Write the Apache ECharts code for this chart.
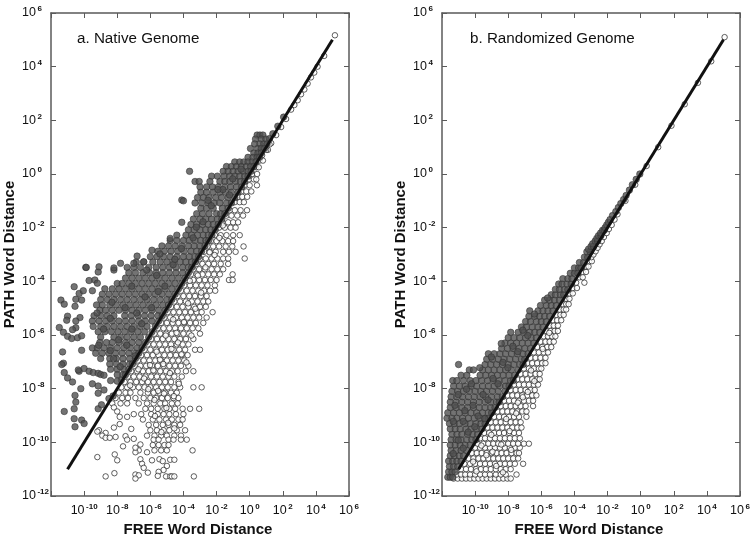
<!DOCTYPE html>
<html><head><meta charset="utf-8"><style>html,body{margin:0;padding:0;background:#fff}#c{width:750px;height:536px}</style>
<script src="https://cdn.jsdelivr.net/npm/echarts@6/dist/echarts.min.js"></script></head>
<body><div id="c"></div>
<script>
// All values are base-10 exponents. Rows are [PATH exponent, FREE exponents...]; pairs are [FREE, PATH].
const panelTitles=['a. Native Genome','b. Randomized Genome'];
const xAxisTitle='FREE Word Distance', yAxisTitle='PATH Word Distance';
const diagonalEnds=[-11,5];
const nativeDarkRows=[
[1.45,.45,.62,.8],[1.3,.35,.7,.98],[1.12,.3,.62,.85,1.05],[.95,.05,.48,.7,.9],[.78,.25,.5,.7],[.62,-.1,.2,.45,.6],
[.45,-.9,-.6,-.35,-.1,.15,.38],[.28,-1.4,-1.1,-.8,-.5,-.2,.05,.25],[.1,-3.63,-1.6,-1.3,-1,-.7,-.4,-.1,.08],
[-.08,-2.3,-1.95,-1.55,-1.2,-.9,-.6,-.3,-.1],[-.28,-3.3,-3.05,-2.4,-1.8,-1.5,-1.2,-.85,-.55,-.3],
[-.48,-3,-2.6,-2.25,-1.9,-1.5,-1.15,-.8,-.48],[-.68,-2.95,-2.6,-2.2,-1.8,-1.45,-1.1,-.7],[-.88,-3.15,-2.8,-2.45,-2.05,-1.7,-1.3,-.9],
[-1.08,-3.3,-2.9,-2.5,-2.15,-1.8,-1.4,-1.1],[-1.28,-2.95,-2.6,-2.2,-1.65,-1.3],[-1.48,-3.2,-2.85,-2.45,-2,-1.75,-1.5],
[-1.68,-3.4,-3,-2.65,-2.3,-1.95,-1.68],[-1.88,-3.55,-3.2,-2.85,-2.5,-2.2,-1.9],[-2.08,-3.7,-3.35,-3,-2.65,-2.35,-2.08],
[-2.28,-4.4,-3.85,-3.5,-3.15,-2.8,-2.5,-2.28],[-2.48,-4.8,-4.4,-4,-3.65,-3.3,-2.95,-2.65,-2.48],
[-2.68,-5.3,-4.9,-4.5,-4.1,-3.7,-3.35,-3,-2.7],[-2.88,-5.55,-5.15,-4.75,-4.35,-3.95,-3.55,-3.2,-2.9],
[-3.08,-6,-5.6,-5.2,-4.8,-4.4,-4,-3.65,-3.3,-3.08],[-3.28,-6.85,-6.4,-5.85,-5.4,-5,-4.6,-4.2,-3.85,-3.5,-3.28],
[-3.48,-7.4,-7,-6.6,-6.1,-5.65,-5.25,-4.85,-4.45,-4.05,-3.7,-3.5],[-3.68,-7.3,-6.9,-6.45,-6.05,-5.65,-5.25,-4.85,-4.45,-4.05,-3.7],
[-3.88,-7.5,-7.1,-6.7,-6.3,-5.9,-5.5,-5.1,-4.7,-4.3,-3.9],[-4.08,-8,-7.7,-7.3,-6.9,-6.5,-6.1,-5.7,-5.3,-4.9,-4.5,-4.1],
[-4.28,-8.75,-8.3,-7.9,-7.5,-7.1,-6.7,-6.3,-5.9,-5.5,-5.1,-4.7,-4.3],[-4.48,-8.9,-8.5,-8.1,-7.7,-7.3,-6.9,-6.5,-6.1,-5.7,-5.3,-4.9,-4.5],
[-4.68,-9,-8.6,-8.2,-7.8,-7.4,-7,-6.6,-6.2,-5.8,-5.4,-5,-4.7],[-4.88,-9.25,-8.9,-8.45,-8.05,-7.65,-7.25,-6.85,-6.45,-6.05,-5.65,-5.25,-4.9],
[-5.08,-9.05,-8.7,-8.3,-7.9,-7.5,-7.1,-6.7,-6.3,-5.9,-5.5,-5.1],[-5.28,-9.4,-9,-8.6,-8.2,-7.55,-7.15,-6.75,-6.35,-5.95,-5.55,-5.28],
[-5.48,-9.5,-9.1,-8.7,-8.3,-7.9,-7.5,-7.1,-6.7,-6.3,-5.9,-5.5],[-5.68,-9.45,-9,-8.6,-8.2,-7.8,-7.4,-7,-6.6,-6.2,-5.7],
[-5.88,-9.15,-8.75,-8.35,-7.95,-7.55,-7.15,-6.75,-6.35,-5.9],[-6.08,-9,-8.2,-7.8,-7.4,-7,-6.6,-6.1],
[-6.28,-9.05,-8.65,-8.3,-7.9,-7.5,-7.1,-6.7,-6.3],[-6.48,-9.5,-9.2,-8.8,-8.4,-8,-7.6,-7.2,-6.8,-6.5],
[-6.68,-9.3,-8.9,-8.5,-8.1,-7.7,-7.3,-6.9,-6.7],[-6.88,-9,-8.45,-8.05,-7.65,-7.25,-6.9],[-7.08,-8.45,-8.05,-7.65,-7.25,-7.08],
[-7.28,-8.4,-8,-7.6,-7.3],[-7.48,-8,-7.65,-7.5],[-7.68,-7.75]];
const nativeDarkPairs=[[-10.6,-4.2],[-11.4,-4.7],[-11.2,-4.85],[-10.5,-4.67],[-10.15,-4.7],[-10.55,-4.93],[-10.3,-4.45],[-10.05,-4.35],[-9.5,-4.35],[-9.7,-3.97],[-9.35,-3.95],[-9.2,-4.07],[-9.15,-3.65],[-9.9,-3.48],[-8.2,-3.58],[-11,-5.3],[-11.05,-5.45],[-11.5,-5.72],[-11.25,-5.9],[-11,-6.05],[-10.75,-6.13],[-10.4,-6.1],[-10.15,-6.03],[-10.5,-5.73],[-10.25,-5.35],[-10.5,-5.48],[-10.7,-5.8],[-11.3,-6.63],[-11.25,-7.05],[-11.35,-7.1],[-11.2,-7.4],[-11,-7.6],[-10.7,-7.75],[-10.55,-8.25],[-10.2,-8],[-10.5,-8.5],[-10.6,-8.75],[-11.2,-8.85],[-10.6,-9.12],[-10.55,-9.42],[-10.15,-9.17],[-10,-9.3],[-9.5,-7.82],[-9.15,-7.9],[-9.15,-8.17],[-8.8,-8.05],[-9.15,-8.75],[-8.95,-8.6],[-8.5,-8.37],[-8.25,-8.27],[-10.15,-6.57],[-10.3,-7.35],[-10.35,-7.3],[-10,-7.25],[-9.7,-7.35],[-9.45,-7.4],[-9.15,-7.43],[-9,-7.47],[-8.8,-7.5],[-8.4,-7.7],[-8,-7.72],[-4.1,-.97],[-4,-1],[-4.1,-1.8],[1.2,1.32],[1.4,1.5],[1.7,1.78],[2.05,2.12],
[-5.9,-2.84],[-6.8,-3.06],[-7.8,-3.33],[-9.87,-3.48],[-8.2,-3.5],[-9.1,-3.46],[-7,-3.33],[-6.4,-3.27],[-4.8,-2.4],
[-5.12,-4.18],[-6.32,-4.58],[-7.52,-4.98],[-8.42,-5.38],[-6.82,-5.18],[-5.62,-3.78],[-4.62,-3.38],[-4.12,-2.78],[-3.42,-2.38],[-2.82,-1.78],[-2.32,-1.18],[-1.62,-.58],[-1.02,-.18],[-.52,.18],[-7.12,-5.78],[-7.92,-6.18],[-8.42,-6.58],[-7.42,-6.38],[-6.52,-5.58],[-5.92,-4.98],[-5.52,-4.38],[-4.52,-3.18],[-3.22,-1.98],[-2.52,-.98],[-1.92,-.58],[-1.22,-.78],[-8.82,-5.78],[-9.22,-5.18],[-8.32,-4.78],[-7.12,-4.18],[-6.22,-3.58],[-5.42,-2.98],[-6.92,-6.78],[-7.82,-7.18],[-8.22,-6.88],[-9.12,-6.38]];
const nativeHollowRows=[
[.5,.6,.8],[.25,.4,.55],[0,.15,.45],[-.2,-.05,.25,.4],[-.42,-.3,0,.44],[-.65,-.5,-.2,.1],[-.85,-.7,-.45,-.15],[-1.05,-.9,-.6,-.35],
[-1.35,-1.2,-.9,-.55,-.16],[-1.55,-1.4,-1.1,-.75,-.4],[-1.8,-1.65,-1.3,-1,-.7],[-2,-1.85,-1.5,-1.15,-.85],[-2.28,-2.1,-1.75,-1.4,-1,-.6],
[-2.5,-2.35,-2,-1.65,-1.3,-1],[-2.7,-2.55,-2.2,-1.85,-1.45,-1.05,-.37],[-2.9,-2.75,-2.4,-2.05,-1.6,-1.25,-.85],[-3.15,-3,-2.65,-2.3,-1.95,-1.6,-1.3,-.3],
[-3.35,-3.2,-2.85,-2.5,-2.15,-1.75,-1.3],[-3.55,-3.4,-3.05,-2.7,-2.3,-1.95,-1.6],[-3.74,-3.55,-3.2,-2.85,-2.5,-2.15,-1.8,-1.03],
[-3.95,-3.75,-3.4,-3.05,-2.7,-2.35,-2,-1.25,-1.03],[-4.15,-3.95,-3.6,-3.25,-2.9,-2.55,-2.1],[-4.35,-4.15,-3.8,-3.45,-3.1,-2.75,-2.4,-2.08],
[-4.55,-4.35,-4,-3.65,-3.3,-2.95,-2.6],[-4.75,-4.55,-4.2,-3.85,-3.5,-3.15,-2.8,-2.5],[-4.95,-4.75,-4.4,-4.05,-3.7,-3.35,-3,-2.65],
[-5.15,-4.95,-4.6,-4.25,-3.9,-3.55,-3.2,-2.9,-2.24],[-5.35,-5.15,-4.8,-4.45,-4.1,-3.75,-3.4,-3.05,-2.6],[-5.55,-5.35,-5,-4.65,-4.3,-3.95,-3.6,-3.25,-2.8],
[-5.75,-5.55,-5.2,-4.85,-4.5,-4.15,-3.8,-3.45,-3.1],[-5.95,-5.75,-5.4,-5.05,-4.7,-4.35,-4,-3.65,-3],[-6.15,-5.95,-5.6,-5.25,-4.9,-4.55,-4.2,-3.85,-3.4],
[-6.35,-6.15,-5.8,-5.45,-5.1,-4.75,-4.4,-4.05,-3.7],[-6.55,-6.35,-6,-5.65,-5.3,-4.95,-4.6,-4.25,-3.9,-3.3,-3],[-6.75,-6.55,-6.2,-5.85,-5.5,-5.15,-4.8,-4.45,-4.1,-3.75],
[-6.95,-6.75,-6.4,-6.05,-5.7,-5.35,-5,-4.65,-4.3,-3.95],[-7.15,-6.95,-6.6,-6.25,-5.9,-5.55,-5.2,-4.85,-4.5,-4.15,-3.7],
[-7.35,-7.15,-6.8,-6.45,-6.1,-5.75,-5.4,-5.05,-4.7,-4.35,-3.85,-3.4],[-7.55,-7.35,-7,-6.65,-6.3,-5.95,-5.6,-5.25,-4.9,-4.55,-4.1],
[-7.75,-7.55,-7.2,-6.85,-6.5,-6.15,-5.8,-5.45,-5.1,-4.75,-4.3],[-7.95,-7.75,-7.4,-7.05,-6.7,-6.35,-6,-5.65,-5.3,-4.95,-4.55,-4.2,-3.4,-2.9],
[-8.15,-7.9,-7.5,-7.2,-6.6,-6.15,-5.8,-5.45,-5.1,-4.75,-4.4],[-8.35,-8.1,-7.7,-7.35,-6.9,-6.4,-6,-5.65,-5.3,-4.95,-4.6,-4.3],
[-8.55,-8.3,-7.8,-7.4,-6.7,-6.2,-5.8,-5.4,-5.1,-4.7,-4.35],[-8.75,-6.3,-5.95,-5.55,-5.15,-4.85,-4.5,-4.05,-3.6,-3.05],
[-8.95,-7,-6.55,-5.95,-5.55,-5.2,-4.85,-4.45,-4],[-9.15,-6.45,-5.85,-5.45,-5.05,-4.7,-4.3,-4.05],[-9.35,-6.1,-5.65,-5.25,-4.9,-4.55,-4.2],
[-9.55,-6,-5.6,-5.2,-4.85,-4.4,-3.9],[-9.75,-6.2,-5.75,-5.35,-5,-4.55,-4.15],[-9.9,-5.8,-5.5,-4.9,-4.6,-4.15,-3.8],[-10.1,-5.85,-5.5,-5.15,-4.9],[-10.3,-5.75,-5.35,-5]];
const nativeHollowPairs=[[-8.2,-8.7],[-8,-8.85],[-7.85,-9.05],[-7.4,-9.05],[-8.2,-9.45],[-7.85,-9.32],[-7.15,-9.5],[-9.1,-9.55],[-9.2,-9.6],[-8.7,-9.65],[-8.9,-9.75],[-8.7,-9.83],[-8.45,-9.83],[-8.1,-9.8],[-7.5,-9.77],[-7.4,-9.9],[-7,-9.87],[-7.65,-10.15],[-6.6,-10.08],[-6.7,-10.3],[-6.9,-10.37],[-6.9,-10.2],[-6.2,-10.37],[-9.2,-10.55],[-8.15,-10.45],[-8,-10.67],[-6.6,-10.63],[-6.5,-10.8],[-6.4,-10.95],[-6.15,-11.13],[-5.9,-10.67],[-5.45,-10.63],[-5.25,-10.7],[-4.8,-10.65],[-4.55,-10.65],[-5,-10.88],[-5.2,-11.03],[-5.5,-11.1],[-5.55,-11.25],[-5.05,-11.27],[-4.8,-11.27],[-4.7,-11.27],[-4.55,-11.27],[-3.37,-11.27],[-6.9,-11.2],[-6.7,-11.23],[-6.9,-11.35],[-8.17,-11.15],[-8.7,-11.27],[-3.45,-10.3],
[1.3,1.15],[1.6,1.45],[1.9,1.75],[2.2,2.05],[2.5,2.4],[2.9,2.75],[3.3,3.15],[3.7,3.6],[4.1,4],[4.5,4.4],[5.15,5.17],[1.2,1.1],[1.1,.9],[1,.9],[.75,.7],[2.7,2.57],[3.1,2.97],[3.5,3.37],[3.9,3.78],
[-5.07,-6.02],[-4.62,-5.42],[-3.72,-4.82],[-3.13,-3.78],[-2.42,-2.92],[-1.83,-2.38],[-5.62,-6.62],[-4.33,-6.28],[-5.22,-7.08],[-6.38,-7.62],[-4.82,-7.42],[-5.53,-8.08],[-4.28,-7.82],[-5.03,-8.72],[-5.72,-9.02],[-4.58,-8.28],[-4.92,-9.27],[-5.33,-9.62],[-3.97,-5.52],[-3.28,-5.02],[-2.93,-4.42],[-4.12,-6.72],[-6.12,-8.02],[-6.72,-7.28],[-7.22,-7.88],[-5.82,-7.32],[-4.42,-5.92],[-3.52,-6.02],[-3.62,-3.98],[-2.67,-3.48],[-2.12,-3.02],[-1.62,-1.92],[-5.42,-6.92],[-6.02,-7.12],[-4.72,-6.52],[-3.82,-7.02],[-4.55,-9.48],[-5.18,-8.18],[-5.75,-8.42]];
const randomDarkRows=[
[-11.3,-11.65,-11.5,-11.35],[-11.1,-11.6,-11.4,-11.2],[-10.9,-11.55,-11.3,-11.05],[-10.7,-11.6,-11.35,-11.1,-10.85],[-10.5,-11.5,-11.25,-10.95,-10.7],
[-10.3,-11.45,-11.15,-10.85,-10.5],[-10.1,-11.5,-11.2,-10.9,-10.6,-10.3],[-9.9,-11.45,-11.15,-10.85,-10.5,-10.2,-9.95],[-9.7,-11.4,-11.1,-10.8,-10.45,-10.15,-9.85],
[-9.5,-11.5,-11.2,-10.9,-10.55,-10.25,-9.9,-9.6],[-9.3,-11.55,-11.25,-10.95,-10.6,-10.3,-9.95,-9.65,-9.4],[-9.1,-11.7,-11.4,-11.1,-10.75,-10.4,-10.05,-9.7,-9.4,-9.2],
[-8.9,-11.65,-11.3,-10.95,-10.6,-10.25,-9.9,-9.55,-9.2,-9],[-8.7,-11.5,-11.15,-10.8,-10.45,-10.1,-9.75,-9.4,-9.05,-8.8],[-8.5,-11.5,-11.15,-10.8,-10.45,-10.1,-9.75,-9.4,-9.05,-8.7,-8.55],
[-8.3,-11.45,-11.1,-10.75,-10.4,-10.05,-9.7,-9.35,-9,-8.65,-8.35],[-8.1,-11.4,-11.05,-10.7,-10.35,-10,-9.65,-9.3,-8.95,-8.6,-8.2],[-7.9,-11.3,-10.95,-10.6,-10.25,-9.9,-9.55,-9.2,-8.85,-8.5,-8.15,-7.95],
[-7.7,-11.35,-11.1,-10.7,-10.3,-9.95,-9.6,-9.25,-8.9,-8.55,-8.2,-7.85,-7.7],[-7.5,-10.85,-10.5,-9.7,-9.35,-9,-8.65,-8.3,-7.95,-7.6],[-7.3,-10.35,-10.1,-9.55,-9.2,-8.85,-8.5,-8.15,-7.8,-7.4],
[-7.1,-11,-9.4,-9.05,-8.7,-8.35,-8,-7.65,-7.3,-7.1],[-6.9,-9.3,-8.95,-8.6,-8.25,-7.9,-7.55,-7.2,-7],[-6.7,-9.2,-8.85,-8.5,-8.15,-7.8,-7.45,-7.1,-6.8],
[-6.5,-8.4,-8.05,-7.7,-7.35,-7,-6.65],[-6.3,-8.2,-7.85,-7.5,-7.15,-6.8,-6.45],[-6.1,-8,-7.65,-7.3,-6.95,-6.6,-6.3],[-5.9,-7.85,-7.4,-7.05,-6.7,-6.4,-6.1],
[-5.7,-7.2,-6.9,-6.55,-6.2,-5.9],[-5.5,-6.95,-6.65,-6.3,-6,-5.7],[-5.3,-6.75,-6.4,-6.1,-5.8,-5.5],[-5.1,-6.7,-6.2,-5.9,-5.6,-5.3],[-4.9,-6.05,-5.7,-5.4,-5.1],[-4.7,-5.8,-5.5,-5.2,-4.9],
[-4.5,-5.4,-5.15,-4.85,-4.65],[-4.3,-5.15,-4.9,-4.6,-4.4],[-4.1,-4.95,-4.75,-4.45,-4.2],[-3.9,-4.7,-4.4,-4.15],[-3.7,-4.25,-4,-3.8],[-3.5,-4,-3.75,-3.6],[-3.3,-3.7,-3.45],[-3.1,-3.4,-3.2],
[-2.9,-3.25,-3.05],[-2.8,-3.15],[-2.7,-3,-2.85],[-2.6,-2.9],[-2.5,-2.75,-2.6],[-2.4,-2.65],[-2.3,-2.55,-2.4],[-2.2,-2.42],[-2.1,-2.3,-2.2],[-2,-2.15],[-1.9,-2.05],[-1.8,-1.95],[-1.7,-1.85],[-1.55,-1.7],[-1.4,-1.5],[-1.25,-1.35],[-1.1,-1.2],[-.95,-1.03],[-.8,-.88],[-.6,-.68],[-.4,-.5],[-.2,-.27],[0,-.05]];
const randomDarkPairs=[[-10.72,-9.22],[-10.12,-8.62],[-9.52,-8.22],[-8.92,-7.62],[-8.32,-7.02],[-7.72,-6.42],[-7.12,-5.82],[-6.42,-5.22],[-5.62,-4.62],[-11.02,-9.92],[-10.72,-10.22],[-11.32,-10.42],[-10.42,-9.62],[-9.82,-9.02],[-9.22,-8.42],[-8.62,-7.82],[-8.02,-7.22],[-7.42,-6.62],[-6.82,-6.02],[-10.22,-7.82],[-9.72,-7.22],[-11.22,-8.62],[-10.52,-8.02],[-9.02,-6.82],[-8.42,-6.32],[-11.02,-8.22],[-10.62,-8.82],[-9.42,-9.12],[-10.02,-9.42],[-11.32,-9.22]];
const randomHollowRows=[
[-11.35,-11.3,-11.05,-10.8,-10.55,-10.3,-10.05,-9.8,-9.55,-9.3,-9.05,-8.8,-8.55,-8.3,-8.05,-7.85],[-11.2,-11.1,-10.85,-10.6,-10.3,-10,-9.7,-9.4,-9.1,-8.75,-8.45,-8.15,-7.5],
[-11,-10.85,-10.55,-10.25,-9.95,-9.65,-9.35,-9.05,-8.75,-8.45,-8.15,-7.85],[-10.8,-10.65,-10.3,-10,-9.7,-9.4,-9.1,-8.8,-8.5,-8.2,-7.9,-7.6,-7.1],
[-10.6,-10.4,-10.1,-9.8,-9.5,-9.2,-8.9,-8.6,-8.3,-8,-7.7,-7.4],[-10.4,-10.2,-9.9,-9.6,-9.3,-9,-8.7,-8.4,-8.1,-7.8,-7.5,-7.35],[-10.2,-10,-9.7,-9.4,-9.1,-8.8,-8.5,-8.2,-7.9,-7.6,-7.3],
[-10.05,-9.85,-9.5,-9.2,-8.9,-8.6,-8.3,-8,-7.7,-7.4,-7.05,-6.75],[-9.85,-9.7,-9.4,-9.1,-8.8,-8.5,-8.2,-7.9,-7.6,-7.3],[-9.65,-9.45,-9.15,-8.85,-8.55,-8.25,-7.95,-7.65,-7.35],
[-9.45,-9.25,-8.95,-8.65,-8.35,-8.05,-7.75,-7.45,-7.2],[-9.25,-9.05,-8.75,-8.45,-8.15,-7.85,-7.55,-7.25],[-9.05,-8.85,-8.55,-8.25,-7.95,-7.65,-7.35,-6.9],[-8.85,-8.65,-8.35,-8.05,-7.75,-7.45,-7.15,-6.9],
[-8.65,-8.45,-8.15,-7.85,-7.55,-7.25,-6.95,-6.5],[-8.45,-8.25,-7.95,-7.65,-7.35,-7.05,-6.75,-6.5],[-8.25,-8.05,-7.75,-7.45,-7.15,-6.85,-6.55,-6.3],[-8.05,-7.85,-7.55,-7.25,-6.95,-6.65,-6.4],
[-7.85,-7.65,-7.35,-7.05,-6.75,-6.45,-6.2],[-7.65,-7.45,-7.15,-6.85,-6.55,-6.25,-6.1],[-7.45,-7.25,-6.95,-6.65,-6.35,-6.1],[-7.25,-7.05,-6.75,-6.45,-6.15,-6],[-7.05,-6.85,-6.55,-6.25,-5.95,-5.75],
[-6.85,-6.65,-6.35,-6.05,-5.75],[-6.65,-6.45,-6.15,-5.85,-5.6],[-6.45,-6.25,-5.95,-5.65,-5.4],[-6.25,-6.05,-5.75,-5.5,-5.25],[-6.05,-5.85,-5.6,-5.35,-5.15],[-5.85,-5.7,-5.45,-5.2,-5],
[-5.65,-5.5,-5.25,-5],[-5.45,-5.3,-5.05,-4.8],[-5.25,-5.1,-4.85,-4.65],[-5.05,-4.9,-4.65,-4.5],[-4.85,-4.7,-4.5,-4.35],[-4.65,-4.5,-4.3],[-4.45,-4.3,-4.1],[-4.25,-4.1,-3.85],[-4.05,-3.9,-3.4],
[-3.85,-3.7,-3.5],[-3.65,-3.5,-3.3],[-3.45,-3.3,-3.15],[-3.25,-3.1,-2.95],[-3.1,-2.98],[-3,-2.85],[-2.88,-2.72],[-2.75,-2.6],[-2.62,-2.48],[-2.5,-2.35],[-2.35,-2.22],[-2.2,-2.05],[-2.05,-1.92],[-1.9,-1.75],[-1.7,-1.58],[-1.5,-1.4],[-1,-.92],[-.4,-.33],[.3,.36],[1,1.06],[1.8,1.86],[2.6,2.66],[3.4,3.46],[4.2,4.26],[5.1,5.07]];
const randomHollowPairs=[[-9.02,-9.72],[-8.12,-9.13],[-7.52,-8.92],[-8.42,-10.08],[-9.32,-10.48],[-7.82,-10.28],[-8.72,-10.88],[-9.92,-11.08],[-8.32,-11.12],[-7.92,-9.58],[-7.12,-8.32],[-6.82,-8.12],[-7.42,-8.52],[-6.62,-7.32],[-6.42,-7.72],[-5.92,-6.52],[-5.52,-5.92],[-10.12,-10.72],[-9.62,-10.12],[-8.95,-10.35]];
const toPoints=(rows,pairs=[])=>rows.flatMap(([y,...xs])=>xs.map(x=>[10**x,10**y])).concat(pairs.map(([x,y])=>[10**x,10**y]));
const font='"Liberation Sans",Arial,sans-serif', ink='#5a5a5a';
const fmt=v=>{const e=Math.round(Math.log10(v));return '{b|10}{s|'+e+'}';};
const rich={b:{fontFamily:font,fontSize:12.5,color:'#111'},s:{fontFamily:font,fontSize:8,color:'#111',padding:[0,0,8,1.5],fontWeight:'bold'}};
const scale={type:'log',logBase:10,min:1e-12,max:1e6,interval:2,splitLine:{show:false},minorTick:{show:false},
  axisLine:{show:true,onZero:false,lineStyle:{color:ink,width:1.5}},axisTick:{show:true,inside:true,length:5,lineStyle:{color:ink,width:1}}};
const grids=[{left:51,top:13,width:298,height:483,outerBoundsMode:'none'},{left:442,top:13,width:298,height:483,outerBoundsMode:'none'}];
const xAxis=[],yAxis=[],series=[];
grids.forEach((g,i)=>{
  xAxis.push({...scale,gridIndex:i,position:'bottom',name:xAxisTitle,nameLocation:'middle',nameGap:24,
    nameTextStyle:{fontFamily:font,fontSize:15,fontWeight:'bold',color:'#111',verticalAlign:'top',padding:[0,4,0,0]},
    axisLabel:{margin:7,rich,formatter:v=>Math.round(Math.log10(v))===-12?'':fmt(v),hideOverlap:false,showMinLabel:true,showMaxLabel:true}});
  xAxis.push({...scale,gridIndex:i,position:'top',axisLabel:{show:false}});
  yAxis.push({...scale,gridIndex:i,position:'left',name:yAxisTitle,nameLocation:'middle',nameGap:33.5,
    nameTextStyle:{fontFamily:font,fontSize:15,fontWeight:'bold',color:'#111'},
    axisLabel:{margin:29,align:'left',rich,formatter:fmt,hideOverlap:false,showMinLabel:true,showMaxLabel:true}});
  yAxis.push({...scale,gridIndex:i,position:'right',axisLabel:{show:false}});
});
const hollowStyle={color:'#fff',borderColor:'#222',borderWidth:.9}, darkStyle={color:'#505050',borderColor:'#303030',borderWidth:.7};
function addPanel(i,hollow,dark){
  const ax={xAxisIndex:i*2,yAxisIndex:i*2};
  series.push({type:'scatter',...ax,symbolSize:5.5,itemStyle:hollowStyle,data:hollow,silent:true});
  series.push({type:'scatter',...ax,symbolSize:6.5,itemStyle:darkStyle,data:dark,silent:true});
  series.push({type:'line',...ax,symbol:'none',lineStyle:{color:'#111',width:3},data:diagonalEnds.map(e=>[10**e,10**e]),silent:true});
}
addPanel(0,toPoints(nativeHollowRows,nativeHollowPairs),toPoints(nativeDarkRows,nativeDarkPairs));
addPanel(1,toPoints(randomHollowRows,randomHollowPairs),toPoints(randomDarkRows,randomDarkPairs));
const chart=echarts.init(document.getElementById('c'),null,{renderer:'canvas'});
chart.setOption({animation:false,backgroundColor:'#fff',
  title:[{text:panelTitles[0],left:77,top:31},{text:panelTitles[1],left:470,top:31}].map(t=>({...t,padding:0,textStyle:{fontFamily:font,fontSize:15.2,fontWeight:'normal',color:'#111'}})),
  grid:grids,xAxis,yAxis,series});
</script></body></html>
